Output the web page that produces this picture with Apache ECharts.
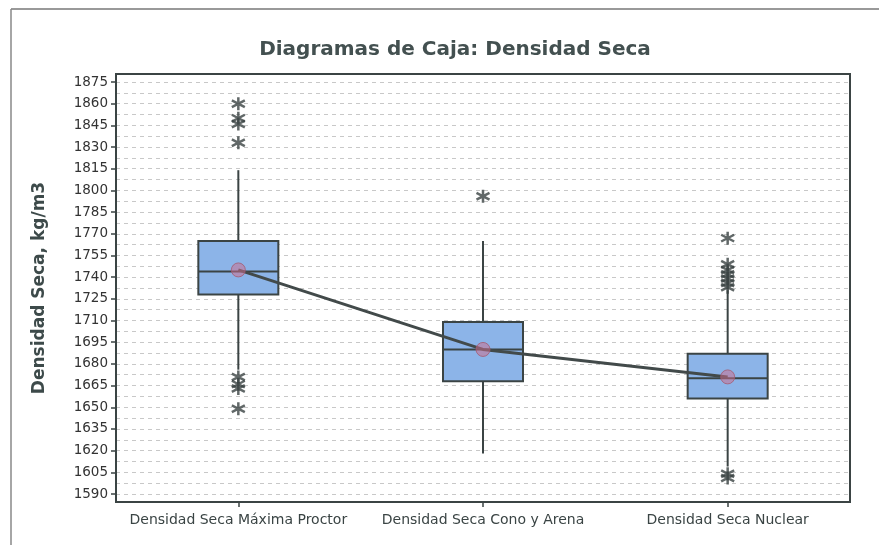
<!DOCTYPE html>
<html>
<head>
<meta charset="utf-8">
<script src="https://cdn.jsdelivr.net/npm/echarts@6/dist/echarts.min.js"></script>
<style>
  html, body { margin: 0; padding: 0; background: #fff; }
  #chart { width: 879px; height: 545px; }
</style>
</head>
<body>
<div id="chart"></div>
<script>
// categorias
var categories = ['Densidad Seca Máxima Proctor', 'Densidad Seca Cono y Arena', 'Densidad Seca Nuclear'];

// estadisticos de cada caja
var whiskerLow = [1676, 1618, 1609];
var q1 = [1728, 1668, 1656];
var median = [1744, 1690, 1670];
var q3 = [1765, 1709, 1687];
var whiskerHigh = [1814, 1765, 1731];
var means = [1745, 1690, 1671];

// valores atipicos
var outliersProctor = [1860, 1850, 1846, 1833, 1671, 1666, 1663, 1649];
var outliersCono = [1796];
var outliersNuclear = [1767, 1749, 1745, 1742, 1739, 1736, 1733, 1604, 1601];

var yTicks = { min: 1590, max: 1875, step: 15 };

var fontFam = '"DejaVu Sans", Verdana, sans-serif';
var darkGray = '#3b4444';

// armar datos de las cajas
var boxData = [];
for (var i = 0; i < categories.length; i++) {
  boxData.push([i, whiskerLow[i], q1[i], median[i], q3[i], whiskerHigh[i]]);
}
var outlierData = [];
var allOut = [outliersProctor, outliersCono, outliersNuclear];
for (var c = 0; c < allOut.length; c++) {
  for (var k = 0; k < allOut[c].length; k++) {
    outlierData.push([c, allOut[c][k]]);
  }
}
var meanData = [];
for (var m = 0; m < means.length; m++) {
  meanData.push([m, means[m]]);
}

function renderBox(params, api) {
  var idx = api.value(0);
  var pLow = api.coord([idx, api.value(1)]);
  var pQ1 = api.coord([idx, api.value(2)]);
  var pMed = api.coord([idx, api.value(3)]);
  var pQ3 = api.coord([idx, api.value(4)]);
  var pHigh = api.coord([idx, api.value(5)]);
  var halfW = 40;
  var x = pMed[0];
  var lineStyle = { stroke: darkGray, lineWidth: 2 };
  return {
    type: 'group',
    children: [
      { type: 'line', shape: { x1: x, y1: pQ3[1], x2: x, y2: pHigh[1] }, style: lineStyle },
      { type: 'line', shape: { x1: x, y1: pQ1[1], x2: x, y2: pLow[1] }, style: lineStyle },
      {
        type: 'rect',
        shape: { x: x - halfW, y: pQ3[1], width: halfW * 2, height: pQ1[1] - pQ3[1] },
        style: { fill: '#8cb4e8', stroke: darkGray, lineWidth: 2 }
      },
      { type: 'line', shape: { x1: x - halfW, y1: pMed[1], x2: x + halfW, y2: pMed[1] }, style: lineStyle }
    ]
  };
}

var option = {
  backgroundColor: '#fff',
  animation: false,
  title: {
    text: 'Diagramas de Caja: Densidad Seca',
    left: 450,
    top: 35,
    textAlign: 'center',
    textStyle: { fontFamily: fontFam, fontSize: 20, fontWeight: 'bold', color: '#435050' }
  },
  grid: { left: 116, right: 29, top: 82, bottom: 51 },
  xAxis: {
    type: 'category',
    data: categories,
    offset: 8,
    axisLine: { show: false },
    axisTick: { show: true, alignWithLabel: true, length: 5, lineStyle: { color: darkGray, width: 1.5 } },
    axisLabel: { fontFamily: fontFam, fontSize: 14, color: '#3a4444', margin: 11, interval: 0 },
    splitLine: { show: false }
  },
  yAxis: {
    type: 'value',
    min: yTicks.min,
    max: yTicks.max,
    interval: yTicks.step,
    name: 'Densidad Seca, kg/m3',
    nameLocation: 'middle',
    nameGap: 68,
    nameTextStyle: { fontFamily: fontFam, fontSize: 17, fontWeight: 'bold', color: '#3d4a4a' },
    axisLine: { show: false },
    axisTick: { show: true, length: 5, lineStyle: { color: darkGray, width: 1.5 } },
    axisLabel: {
      fontFamily: fontFam, fontSize: 13.5, color: '#333', margin: 8,
      formatter: function (v) { return String(v); }
    },
    splitLine: { show: true, lineStyle: { color: '#c8c8c8', type: [4, 4], width: 1 } },
    minorTick: { show: false, splitNumber: 2 },
    minorSplitLine: { show: true, lineStyle: { color: '#c8c8c8', type: [4, 4], width: 1 } }
  },
  series: [
    {
      type: 'custom',
      renderItem: renderBox,
      data: boxData,
      encode: { x: 0, y: [1, 2, 3, 4, 5] },
      z: 2
    },
    {
      type: 'scatter',
      data: outlierData,
      symbol: 'path://M0,-5L0,5M-4.5,-2.6L4.5,2.6M-4.5,2.6L4.5,-2.6',
      symbolSize: 13,
      itemStyle: { color: 'none', borderColor: '#3a4242', borderWidth: 2.5 },
      z: 3
    },
    {
      type: 'line',
      data: meanData,
      symbol: 'none',
      lineStyle: { color: '#424a4a', width: 3 },
      z: 4
    },
    {
      type: 'scatter',
      data: meanData,
      symbol: 'circle',
      symbolSize: 14,
      itemStyle: { color: 'rgba(205,110,140,0.65)', borderColor: '#a55a70', borderWidth: 1 },
      z: 5
    }
  ],
  graphic: [
    {
      type: 'rect',
      shape: { x: 116, y: 74, width: 734, height: 428 },
      style: { fill: 'none', stroke: darkGray, lineWidth: 2 },
      z: 10
    },
    {
      type: 'line',
      shape: { x1: 11, y1: 9, x2: 879, y2: 9 },
      style: { stroke: '#777', lineWidth: 1.5 }
    },
    {
      type: 'line',
      shape: { x1: 11, y1: 9, x2: 11, y2: 545 },
      style: { stroke: '#888', lineWidth: 1.5 }
    }
  ]
};

var myChart = echarts.init(document.getElementById('chart'));
myChart.setOption(option);
</script>
</body>
</html>
